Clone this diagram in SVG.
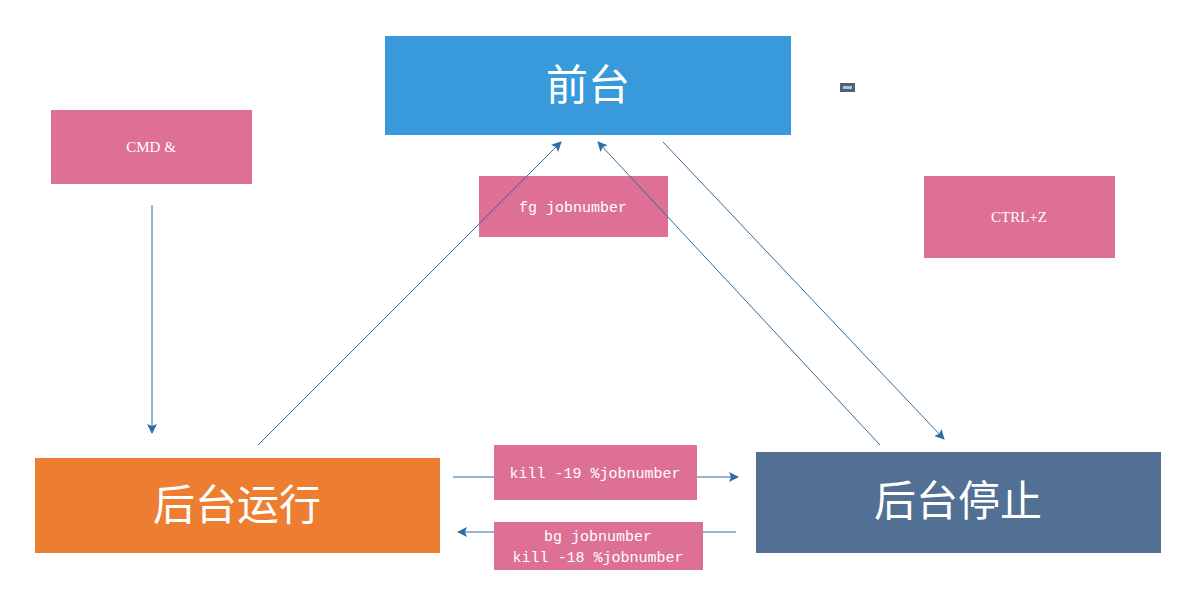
<svg xmlns="http://www.w3.org/2000/svg" width="1198" height="592" viewBox="0 0 1198 592">
<style>
.lbl{fill:#DE7095}
.t{fill:#fff;text-anchor:middle}
.big{font-family:"Noto Sans CJK SC",sans-serif;font-size:42px}
.mono{font-family:"Liberation Mono",monospace;font-size:15px}
.serif{font-family:"Liberation Serif",serif;font-size:15px}
.c{stroke:#2E6DA4;stroke-width:1;fill:none}
</style>
<defs>
<marker id="ah" viewBox="0 0 10 10" refX="9" refY="5" markerWidth="10" markerHeight="10" markerUnits="userSpaceOnUse" orient="auto">
<path d="M0,0 L10,5 L0,10 L2,5 z" fill="#2E6DA4"/>
</marker>
</defs>
<rect width="1198" height="592" fill="#fff"/>
<g id="front">
<rect x="385" y="36" width="406" height="99" fill="#3899DB"/>
<text class="t big" x="588" y="100">前台</text>
</g>
<g id="marker-small">
<rect x="840" y="83" width="15" height="9" fill="#4E6375"/>
<rect x="843" y="86" width="9" height="3" fill="#A9C4DA"/>
</g>
<g id="cmd">
<rect class="lbl" x="51" y="110" width="201" height="74"/>
<text class="t serif" x="151" y="152">CMD &amp;</text>
</g>
<g id="fg">
<rect class="lbl" x="479" y="176" width="189" height="61"/>
<text class="t mono" x="573" y="212">fg jobnumber</text>
</g>
<g id="ctrlz">
<rect class="lbl" x="924" y="176" width="191" height="82"/>
<text class="t serif" x="1019" y="222">CTRL+Z</text>
</g>
<g id="bg-run">
<rect x="35" y="458" width="405" height="95" fill="#ED7D31"/>
<text class="t big" x="237" y="520">后台运行</text>
</g>
<g id="bg-stop">
<rect x="756" y="452" width="405" height="101" fill="#517093"/>
<text class="t big" x="958" y="516">后台停止</text>
</g>
<g id="kill19">
<rect class="lbl" x="494" y="445" width="203" height="55"/>
<text class="t mono" x="595" y="478">kill -19 %jobnumber</text>
</g>
<g id="bgcmd">
<rect class="lbl" x="494" y="522" width="209" height="48"/>
<text class="t mono" x="598" y="541">bg jobnumber</text>
<text class="t mono" x="598" y="562">kill -18 %jobnumber</text>
</g>
<g id="connectors">
<line class="c" x1="152" y1="205" x2="152" y2="433" marker-end="url(#ah)"/>
<line class="c" x1="258" y1="445" x2="561" y2="142" marker-end="url(#ah)"/>
<line class="c" x1="880" y1="445" x2="598" y2="142" marker-end="url(#ah)"/>
<line class="c" x1="663" y1="142" x2="944" y2="439" marker-end="url(#ah)"/>
<line class="c" x1="453" y1="477" x2="494" y2="477"/>
<line class="c" x1="697" y1="477" x2="738" y2="477" marker-end="url(#ah)"/>
<line class="c" x1="736" y1="532" x2="703" y2="532"/>
<line class="c" x1="494" y1="532" x2="458" y2="532" marker-end="url(#ah)"/>
</g>
</svg>
